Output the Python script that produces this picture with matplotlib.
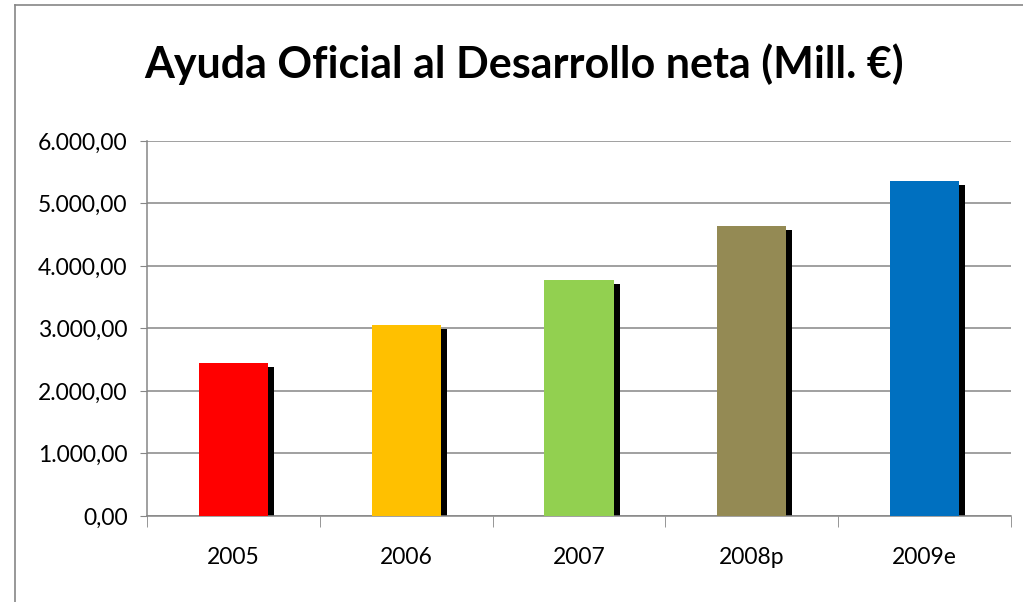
import matplotlib.pyplot as plt
import matplotlib.transforms as mtransforms
from matplotlib.lines import Line2D
from matplotlib.ticker import FuncFormatter, FixedLocator

years = ["2005", "2006", "2007", "2008p", "2009e"]
aod = [2440, 3050, 3770, 4640, 5360]
bar_colors = ["#FF0000", "#FFC000", "#92D050", "#948A54", "#0070C0"]

plt.rcParams['font.family'] = ['Lato', 'DejaVu Sans']

fig = plt.figure(figsize=(10.23, 6.02), dpi=100)
ax = fig.add_axes([0.1437, 0.1429, 0.8446, 0.6229])

x = list(range(len(years)))

# black drop shadow, a few pixels right and down
shadow = ax.transData + mtransforms.ScaledTranslation(6 / 100, -4 / 100, fig.dpi_scale_trans)
ax.bar(x, aod, width=0.4, color="black", transform=shadow, zorder=2)
ax.bar(x, aod, width=0.4, color=bar_colors, zorder=3)

ax.set_xlim(-0.5, len(years) - 0.5)
ax.set_ylim(0, 6000)
ax.set_yticks(range(0, 6001, 1000))
ax.yaxis.set_major_formatter(FuncFormatter(
    lambda v, p: f"{v:,.2f}".replace(",", "X").replace(".", ",").replace("X", ".")))
ax.grid(axis="y", color="#868686", linewidth=1.1, zorder=0)

ax.set_xticks(x)
ax.set_xticklabels(years)
ax.xaxis.set_minor_locator(FixedLocator([i - 0.5 for i in range(len(years) + 1)]))
ax.tick_params(axis="x", which="major", length=0, pad=22, labelsize=16.5)
ax.tick_params(axis="x", which="minor", length=8, color="#868686", direction="out")
ax.tick_params(axis="y", length=5, color="#868686", pad=9, labelsize=16.5)

for s in ["top", "right"]:
    ax.spines[s].set_visible(False)
for s in ["left", "bottom"]:
    ax.spines[s].set_color("#868686")
    ax.spines[s].set_linewidth(1.1)

fig.text(0.512, 0.893, "Ayuda Oficial al Desarrollo neta (Mill. €)",
         ha="center", va="center", fontsize=31, fontweight="bold")

# chart area border
fig.add_artist(Line2D([15 / 1023, 15 / 1023], [0, 1 - 5 / 602], color="#868686", lw=1.2))
fig.add_artist(Line2D([15 / 1023, 1], [1 - 5 / 602, 1 - 5 / 602], color="#868686", lw=1.2))

fig.savefig("out.png", dpi=100)
